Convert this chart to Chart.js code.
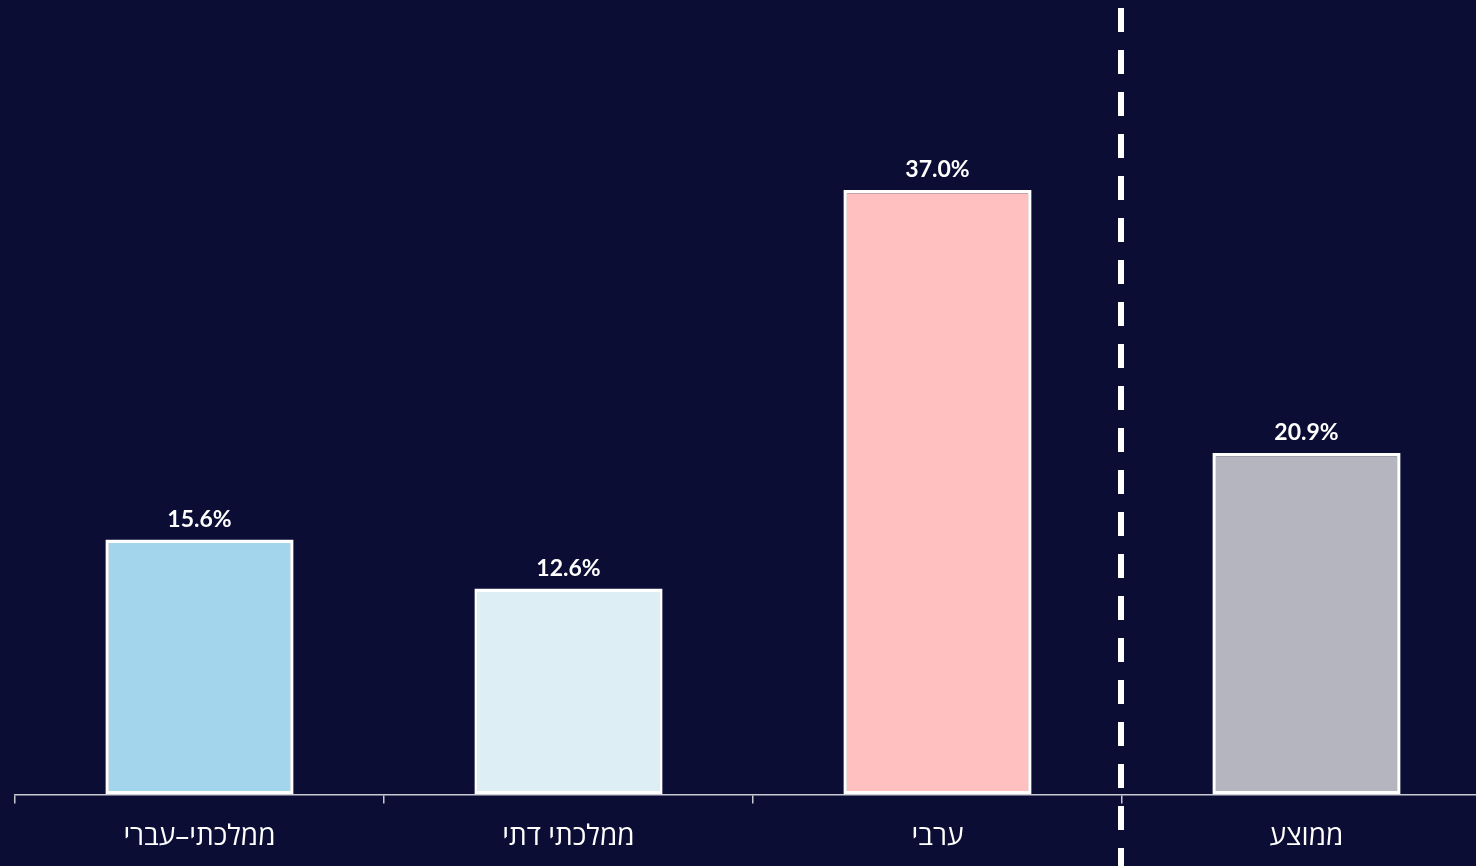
<!DOCTYPE html>
<html lang="he">
<head>
<meta charset="utf-8">
<title>שיעור לפי פיקוח</title>
<script src="https://cdn.jsdelivr.net/npm/chart.js@4.4.1/dist/chart.umd.min.js"></script>
<style>
  html, body { margin: 0; padding: 0; background: #0b0d35; overflow: hidden; }
  #wrap { position: relative; width: 1491px; height: 871px; }
</style>
</head>
<body>
<div id="wrap"><canvas id="bars"></canvas></div>
<script>
// categories and values
var categories = ['ממלכתי–עברי', 'ממלכתי דתי', 'ערבי', 'ממוצע'];
var values = [15.6, 12.6, 37.0, 20.9];
var barColors = ['#a3d6ed', '#ddeef4', '#ffc0bf', '#b5b5bf'];

// value label above each bar
const valueLabels = {
  id: 'valueLabels',
  afterDatasetsDraw(chart) {
    const ctx = chart.ctx;
    const meta = chart.getDatasetMeta(0);
    ctx.save();
    ctx.fillStyle = '#ffffff';
    ctx.font = 'bold 23px Lato, "Open Sans", sans-serif';
    ctx.textAlign = 'center';
    ctx.textBaseline = 'alphabetic';
    ctx.direction = 'ltr';
    meta.data.forEach((bar, i) => {
      ctx.fillText(values[i].toFixed(1) + '%', bar.x, bar.y - 13);
    });
    ctx.restore();
  }
};

// dashed divider between the sectors and the average
const divider = {
  id: 'divider',
  afterDraw(chart) {
    const ctx = chart.ctx;
    const x = chart.scales.x.getPixelForValue(2.5) - 1;
    ctx.save();
    ctx.strokeStyle = '#ffffff';
    ctx.lineWidth = 6;
    ctx.setLineDash([24, 18]);
    ctx.beginPath();
    ctx.moveTo(x, 8);
    ctx.lineTo(x, chart.height);
    ctx.stroke();
    ctx.restore();
  }
};

const ctx = document.getElementById('bars').getContext('2d');
const chart = new Chart(ctx, {
  type: 'bar',
  data: {
    labels: categories,
    datasets: [{
      data: values,
      backgroundColor: barColors,
      borderColor: '#ffffff',
      borderWidth: 3.5,
      borderSkipped: false,
      categoryPercentage: 1,
      barPercentage: 0.51
    }]
  },
  options: {
    responsive: true,
    maintainAspectRatio: false,
    animation: false,
    layout: { padding: { top: 141, left: 15, right: 0, bottom: 0 } },
    plugins: { legend: { display: false }, tooltip: { enabled: false } },
    scales: {
      x: {
        grid: {
          display: true,
          drawOnChartArea: false,
          drawTicks: true,
          tickLength: 9,
          color: '#c9c9d2',
          lineWidth: 1.5
        },
        border: { display: true, color: '#c9c9d2', width: 1.5 },
        ticks: {
          color: '#ffffff',
          padding: 17,
          font: { family: '"Open Sans", "Liberation Sans", sans-serif', size: 28 }
        }
      },
      y: {
        display: false,
        min: 0,
        max: 40
      }
    }
  },
  plugins: [valueLabels, divider]
});
</script>
</body>
</html>
